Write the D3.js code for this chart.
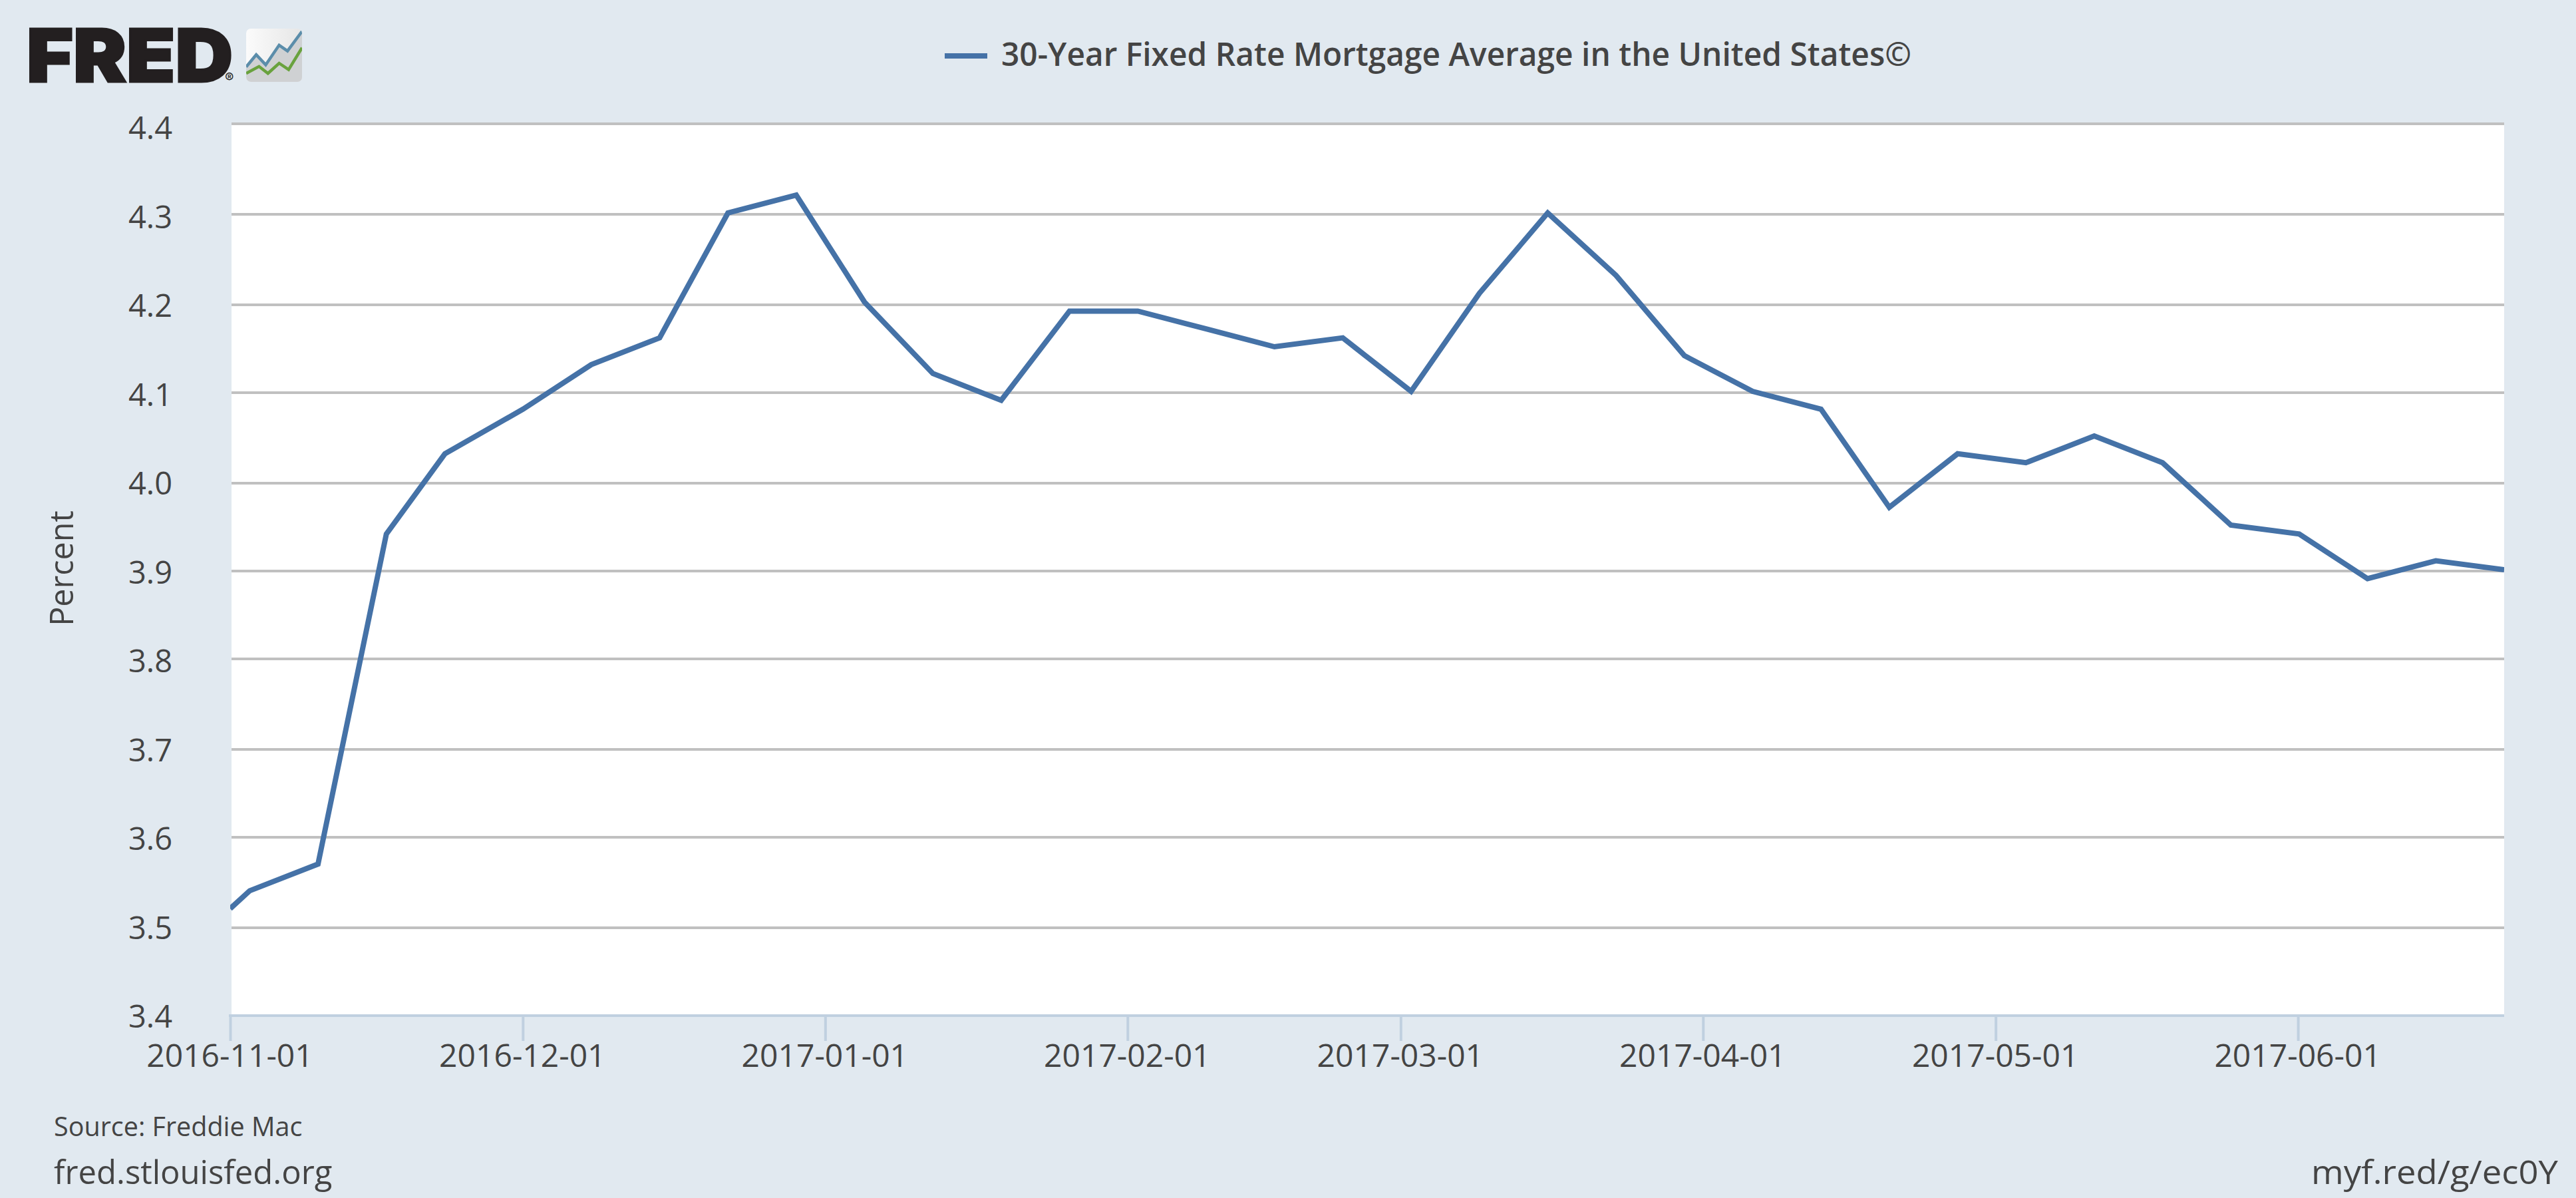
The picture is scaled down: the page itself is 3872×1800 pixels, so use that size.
<!DOCTYPE html>
<html><head><meta charset="utf-8">
<script src="https://cdnjs.cloudflare.com/ajax/libs/d3/7.8.5/d3.min.js"></script>
<style>html,body{margin:0;padding:0;background:#E1E9F0}svg{display:block}text{font-family:"Open Sans",sans-serif;fill:#444}</style>
</head><body><svg id="c" width="3872" height="1800"></svg>
<script>
const dates=["2016-11-01","2016-11-03","2016-11-10","2016-11-17","2016-11-23","2016-12-01","2016-12-08","2016-12-15","2016-12-22","2016-12-29","2017-01-05","2017-01-12","2017-01-19","2017-01-26","2017-02-02","2017-02-09","2017-02-16","2017-02-23","2017-03-02","2017-03-09","2017-03-16","2017-03-23","2017-03-30","2017-04-06","2017-04-13","2017-04-20","2017-04-27","2017-05-04","2017-05-11","2017-05-18","2017-05-25","2017-06-01","2017-06-08","2017-06-15","2017-06-22"];
const rates=[3.52,3.54,3.57,3.94,4.03,4.08,4.13,4.16,4.30,4.32,4.20,4.12,4.09,4.19,4.19,4.17,4.15,4.16,4.10,4.21,4.30,4.23,4.14,4.10,4.08,3.97,4.03,4.02,4.05,4.02,3.95,3.94,3.89,3.91,3.90];
const xTicks=["2016-11-01","2016-12-01","2017-01-01","2017-02-01","2017-03-01","2017-04-01","2017-05-01","2017-06-01"];
const yTicks=[3.4,3.5,3.6,3.7,3.8,3.9,4.0,4.1,4.2,4.3,4.4];
const seriesName="30-Year Fixed Rate Mortgage Average in the United States©";
const logoBlue=[[0,.28],[.18,.51],[.35,.32],[.59,.69],[.74,.58],[1,.95]];
const logoGreen=[[0,.16],[.23,.29],[.39,.16],[.59,.35],[.76,.23],[1,.64]];
// pixel snapping of the gridlines in the reference, bottom to top
const gridSnap=[0,2,0,2,0,2,4,2,4,2,0];

const parse=d3.utcParse("%Y-%m-%d");
const svg=d3.select("#c");
const L=348,R=3764,T=186,B=1526,TICKX=346;
const xDomain=[parse(dates[0]),parse(dates[dates.length-1])];
const x=d3.scaleUtc().domain(xDomain).range([TICKX,R]);
const xTickScale=d3.scaleUtc().domain(xDomain).range([TICKX,R-2]);
const y=d3.scaleLinear().domain([3.4,4.4]).range([B,T]);
const yLabel=d3.scaleLinear().domain([3.4,4.4]).range([1527,192]);

svg.append("rect").attr("x",L).attr("y",T).attr("width",R-L).attr("height",B-T).attr("fill","#fff");
// grid
svg.append("g").selectAll("line").data(yTicks.slice(1)).join("line")
  .attr("x1",L).attr("x2",R)
  .attr("y1",(d,i)=>y(d)+gridSnap[i+1]).attr("y2",(d,i)=>y(d)+gridSnap[i+1])
  .attr("stroke","#C0C0C0").attr("stroke-width",4);
// y axis
const yAxis=svg.append("g").attr("transform",`translate(${L},0)`)
  .call(d3.axisLeft(yLabel).tickValues(yTicks).tickFormat(d3.format(".1f")).tickSize(0).tickPadding(89));
yAxis.select(".domain").remove();
yAxis.selectAll("text").attr("font-size",47).attr("font-weight",400).attr("dy","0.36em").style("fill","#444");
// x axis
const xAxis=svg.append("g").attr("transform",`translate(0,${B})`)
  .call(d3.axisBottom(xTickScale).tickValues(xTicks.map(parse)).tickFormat(d3.utcFormat("%Y-%m-%d")).tickSize(38).tickPadding(5));
xAxis.select(".domain").attr("d",`M${TICKX-2},0H${R}`).attr("stroke","#C0D0E0").attr("stroke-width",4);
xAxis.selectAll("line").attr("stroke","#C0D0E0").attr("stroke-width",4);
xAxis.selectAll("text").attr("font-size",48).attr("font-weight",400).attr("dy","0.71em").attr("dx",-1).style("fill","#444");
// series
svg.append("defs").append("clipPath").attr("id","pc").append("rect").attr("x",L-2).attr("y",T-10).attr("width",R-L+2).attr("height",B-T+20);
const line=d3.line().x((d,i)=>x(parse(dates[i]))).y(d=>y(d));
svg.append("path").attr("d",line(rates)).attr("fill","none").attr("stroke","#4572A7").attr("stroke-width",8).attr("stroke-linejoin","miter").attr("clip-path","url(#pc)");
// legend
svg.append("line").attr("x1",1420).attr("x2",1484).attr("y1",84).attr("y2",84).attr("stroke","#4572A7").attr("stroke-width",8);
svg.append("text").attr("x",1505).attr("y",99).attr("font-size",48).attr("font-weight",600).attr("textLength",1368).attr("lengthAdjust","spacingAndGlyphs").text(seriesName);
// footer
svg.append("text").attr("x",81).attr("y",1707).attr("font-size",39.5).text("Source: Freddie Mac");
svg.append("text").attr("x",81).attr("y",1779).attr("font-size",49).text("fred.stlouisfed.org");
svg.append("text").attr("x",3474).attr("y",1779).attr("font-size",49).attr("textLength",371).attr("lengthAdjust","spacingAndGlyphs").text("myf.red/g/ec0Y");
svg.append("text").attr("transform","translate(110,854) rotate(-90)").attr("text-anchor","middle").attr("font-size",48.5).text("Percent");
// logo
svg.append("text").attr("x",40).attr("y",123).attr("font-size",110).attr("font-weight",900).attr("style","font-family:Inter,sans-serif;fill:#231F20;stroke:#231F20;stroke-width:3").attr("textLength",310).attr("lengthAdjust","spacingAndGlyphs").text("FRED");
svg.append("text").attr("x",338).attr("y",124).attr("font-size",20).attr("style","font-family:Inter,sans-serif;fill:#231F20").text("®");
const defs=svg.append("defs");
const lg=defs.append("linearGradient").attr("id","lg").attr("x1",0).attr("x2",1).attr("y1",0).attr("y2",0);
lg.append("stop").attr("offset",0).attr("stop-color","#fbfbfb");lg.append("stop").attr("offset",1).attr("stop-color","#e6e6e6");
defs.append("clipPath").attr("id","ic").append("rect").attr("x",370).attr("y",43).attr("width",84).attr("height",80).attr("rx",7);
const ix=d3.scaleLinear().domain([0,1]).range([370,454]),iy=d3.scaleLinear().domain([0,1]).range([123,43]);
const g=svg.append("g").attr("clip-path","url(#ic)");
g.append("rect").attr("x",370).attr("y",43).attr("width",84).attr("height",80).attr("fill","url(#lg)");
g.append("path").attr("d",d3.area().x(d=>ix(d[0])).y0(123).y1(d=>iy(d[1]))(logoBlue)).attr("fill","#CFD1D3");
const l2=d3.line().x(d=>ix(d[0])).y(d=>iy(d[1]));
g.append("path").attr("d",l2(logoBlue)).attr("fill","none").attr("stroke","#5B8DAA").attr("stroke-width",4.5);
g.append("path").attr("d",l2(logoGreen)).attr("fill","none").attr("stroke","#69A23E").attr("stroke-width",4.5);
</script></body></html>
